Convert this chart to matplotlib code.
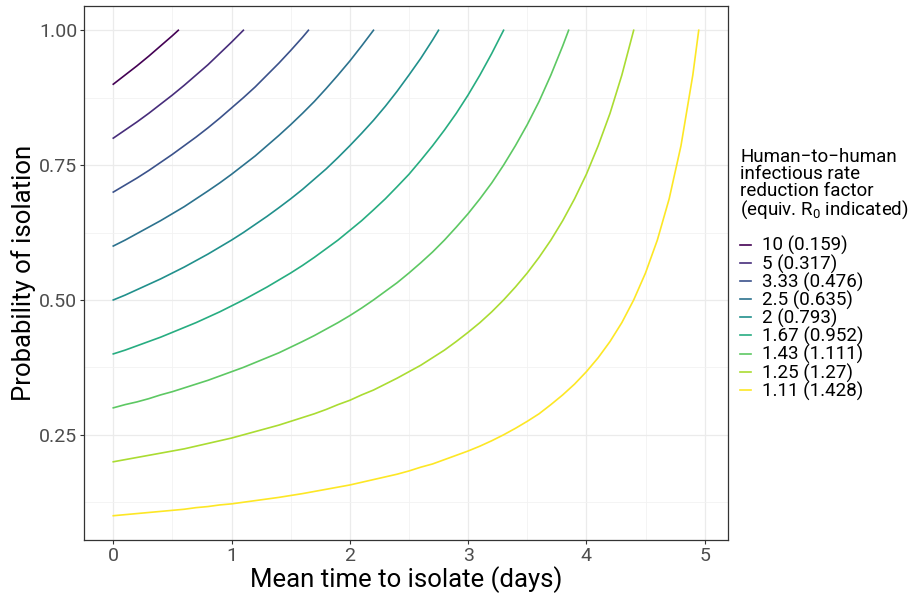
import matplotlib
matplotlib.use("Agg")
import matplotlib.pyplot as plt

plt.rcParams['font.family'] = ['Roboto', 'DejaVu Sans']
plt.rcParams['mathtext.fontset'] = 'custom'
plt.rcParams['mathtext.rm'] = 'Roboto'
plt.rcParams['mathtext.it'] = 'Roboto'

# x positions (days) shared by all curves, each curve then ends where it hits 1.0
days = [0.0, 0.1, 0.2, 0.3, 0.4, 0.5, 0.6, 0.7, 0.8, 0.9,
        1.0, 1.1, 1.2, 1.3, 1.4, 1.5, 1.6, 1.7, 1.8, 1.9,
        2.0, 2.1, 2.2, 2.3, 2.4, 2.5, 2.6, 2.7, 2.8, 2.9,
        3.0, 3.1, 3.2, 3.3, 3.4, 3.5, 3.6, 3.7, 3.8, 3.9,
        4.0, 4.1, 4.2, 4.3, 4.4, 4.5, 4.6, 4.7, 4.8, 4.9]
end_days = [0.55, 1.1, 1.65, 2.2, 2.75, 3.3, 3.85, 4.4, 4.95]

# probability of isolation
p_10 = [0.9, 0.917, 0.934, 0.952, 0.971, 0.99, 1.0]
p_5 = [0.8, 0.815, 0.83, 0.846, 0.863, 0.88, 0.898, 0.917, 0.936, 0.957, 0.978, 1.0]
p_333 = [0.7, 0.713, 0.726, 0.74, 0.755, 0.77, 0.786, 0.802, 0.819, 0.837,
         0.856, 0.875, 0.895, 0.917, 0.939, 0.9625, 0.987, 1.0]
p_25 = [0.6, 0.611, 0.623, 0.635, 0.647, 0.66, 0.673, 0.6875, 0.702, 0.717,
        0.733, 0.75, 0.767, 0.786, 0.805, 0.825, 0.846, 0.868, 0.892, 0.917,
        0.943, 0.971, 1.0]
p_2 = [0.5, 0.509, 0.519, 0.529, 0.539, 0.55, 0.561, 0.573, 0.585, 0.598,
       0.611, 0.625, 0.64, 0.655, 0.671, 0.6875, 0.705, 0.724, 0.743, 0.764,
       0.786, 0.809, 0.833, 0.859, 0.887, 0.917, 0.948, 0.982, 1.0]
p_167 = [0.4, 0.407, 0.415, 0.423, 0.431, 0.44, 0.449, 0.458, 0.468, 0.478,
         0.489, 0.5, 0.512, 0.524, 0.537, 0.55, 0.564, 0.579, 0.595, 0.611,
         0.629, 0.647, 0.667, 0.6875, 0.71, 0.733, 0.759, 0.786, 0.815, 0.846,
         0.88, 0.917, 0.957, 1.0]
p_143 = [0.3, 0.306, 0.311, 0.317, 0.324, 0.33, 0.337, 0.344, 0.351, 0.359,
         0.367, 0.375, 0.384, 0.393, 0.402, 0.4125, 0.423, 0.434, 0.446, 0.458,
         0.471, 0.485, 0.5, 0.516, 0.532, 0.55, 0.569, 0.589, 0.611, 0.635,
         0.66, 0.6875, 0.717, 0.75, 0.786, 0.825, 0.868, 0.917, 0.971, 1.0]
p_125 = [0.2, 0.204, 0.208, 0.212, 0.216, 0.22, 0.224, 0.229, 0.234, 0.239,
         0.244, 0.25, 0.256, 0.262, 0.268, 0.275, 0.282, 0.289, 0.297, 0.306,
         0.314, 0.324, 0.333, 0.344, 0.355, 0.367, 0.379, 0.393, 0.407, 0.423,
         0.44, 0.458, 0.478, 0.5, 0.524, 0.55, 0.579, 0.611, 0.647, 0.6875,
         0.733, 0.786, 0.846, 0.917, 1.0]
p_111 = [0.1, 0.102, 0.104, 0.106, 0.108, 0.11, 0.112, 0.115, 0.117, 0.12,
         0.122, 0.125, 0.128, 0.131, 0.134, 0.1375, 0.141, 0.145, 0.149, 0.153,
         0.157, 0.162, 0.167, 0.172, 0.177, 0.183, 0.19, 0.196, 0.204, 0.212,
         0.22, 0.229, 0.239, 0.25, 0.262, 0.275, 0.289, 0.306, 0.324, 0.344,
         0.367, 0.393, 0.423, 0.458, 0.5, 0.55, 0.611, 0.6875, 0.786, 0.917, 1.0]

labels = ["10 (0.159)", "5 (0.317)", "3.33 (0.476)", "2.5 (0.635)", "2 (0.793)",
          "1.67 (0.952)", "1.43 (1.111)", "1.25 (1.27)", "1.11 (1.428)"]
colors = ["#440154", "#472D7B", "#3B528B", "#2C728E", "#21908C",
          "#27AD81", "#5DC863", "#AADC32", "#FDE725"]
curves = [p_10, p_5, p_333, p_25, p_2, p_167, p_143, p_125, p_111]

fig = plt.figure(figsize=(9.19, 5.94), dpi=100)
ax = fig.add_axes([84 / 919, 54 / 594, 644 / 919, 534 / 594])

for p, end, lab, col in zip(curves, end_days, labels, colors):
    t = days[:len(p) - 1] + [end]
    ax.plot(t, p, color=col, lw=1.2, label=lab)

ax.set_xlim(-0.2475, 5.1975)
ax.set_ylim(0.055, 1.045)
ax.set_xticks([0, 1, 2, 3, 4, 5])
ax.set_xticks([0.5, 1.5, 2.5, 3.5, 4.5], minor=True)
ax.set_yticks([0.25, 0.5, 0.75, 1.0])
ax.set_yticklabels(["0.25", "0.50", "0.75", "1.00"])
ax.set_yticks([0.125, 0.375, 0.625, 0.875], minor=True)
ax.grid(which='major', color='#EBEBEB', lw=0.9)
ax.grid(which='minor', color='#F2F2F2', lw=0.6)
ax.set_axisbelow(True)
ax.tick_params(which='major', length=2.9, width=0.8, color='#333333',
               labelsize=14, labelcolor='#4D4D4D', pad=2)
ax.tick_params(which='minor', length=0)
for s in ax.spines.values():
    s.set_color('#333333')
    s.set_linewidth(0.9)

ax.set_xlabel("Mean time to isolate (days)", fontsize=18.5, labelpad=1)
ax.set_ylabel("Probability of isolation", fontsize=18.5, labelpad=2)

leg = ax.legend(title="Human\u2212to\u2212human\ninfectious rate\nreduction factor\n(equiv. R$_0$ indicated)",
                loc='upper left', bbox_to_anchor=(1.019, 0.734), frameon=False,
                fontsize=13.5, title_fontsize=13.5, handlelength=0.6, handletextpad=0.55,
                labelspacing=-0.055, borderaxespad=0, borderpad=0)
leg._legend_box.align = "left"
leg._legend_box.sep = 11
leg.get_title().set_linespacing(0.92)

fig.savefig("out.png", dpi=100)
